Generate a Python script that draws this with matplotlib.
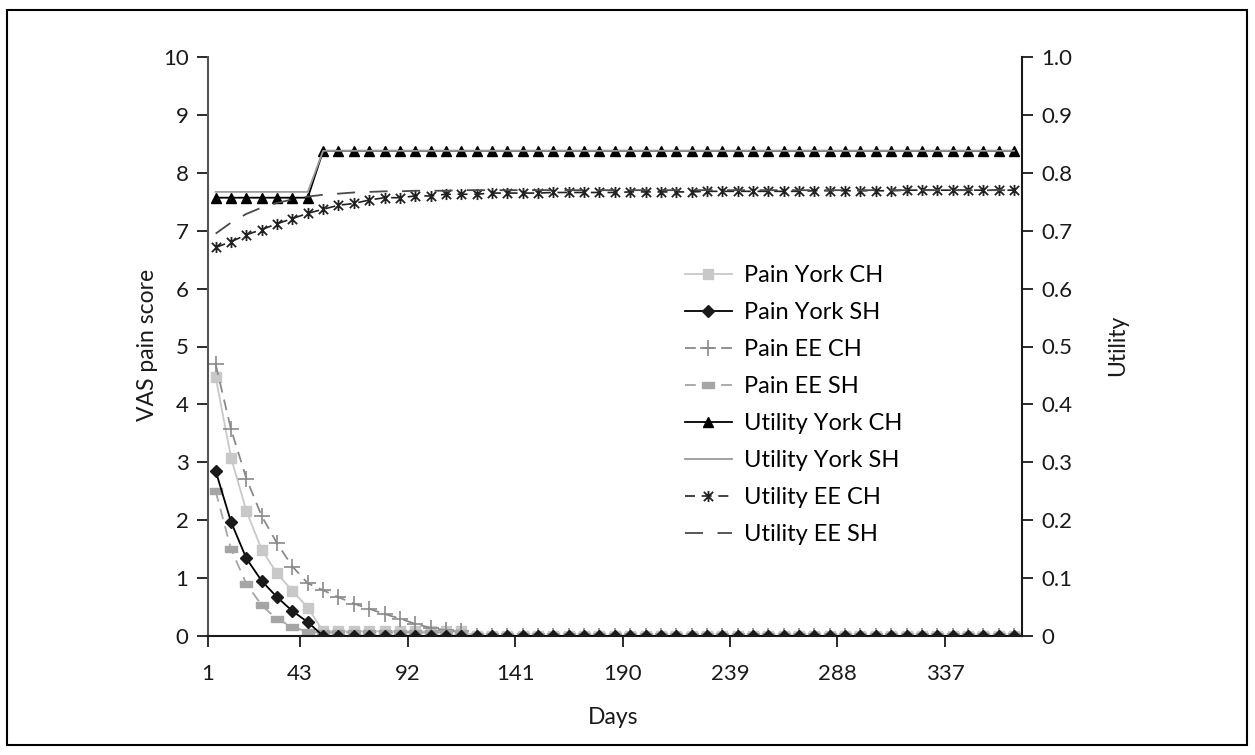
import matplotlib
matplotlib.use("Agg")
import matplotlib.pyplot as plt
from matplotlib.patches import Rectangle
from matplotlib.path import Path

plt.rcParams['font.family'] = ['Lato', 'DejaVu Sans']

# ==============================
# DATA
# ==============================
days = list(range(1, 366, 7))   # weekly points, day 1 .. 365
xtick_days = [1, 43, 92, 141, 190, 239, 288, 337]

pain_york_ch = [4.47, 3.08, 2.16, 1.49, 1.08, 0.78, 0.49] + [0.08] * 10 + [0.0] * 36
pain_york_sh = [2.85, 1.97, 1.34, 0.95, 0.67, 0.43, 0.24] + [0.0] * 46
pain_ee_ch = [4.69, 3.57, 2.72, 2.07, 1.60, 1.20, 0.91, 0.79, 0.67, 0.56,
              0.47, 0.38, 0.30, 0.21, 0.14, 0.10, 0.09] + [0.0] * 36
pain_ee_sh = [2.50, 1.50, 0.90, 0.53, 0.29, 0.16, 0.07] + [0.06] * 10 + [0.0] * 36

util_york_ch = [0.757] * 7 + [0.838] * 46
util_york_sh = [0.767] * 7 + [0.838] * 46
util_ee_ch = [0.671, 0.681, 0.693, 0.702, 0.712, 0.721, 0.730, 0.737, 0.744, 0.747,
              0.753, 0.757, 0.757, 0.760, 0.760, 0.763, 0.763, 0.763, 0.765, 0.765,
              0.765, 0.765, 0.766, 0.766, 0.766, 0.766, 0.766, 0.767, 0.767, 0.767,
              0.767, 0.767, 0.768, 0.768, 0.768, 0.768, 0.768, 0.768, 0.768, 0.769,
              0.769, 0.769, 0.769, 0.769, 0.769, 0.770, 0.770, 0.770, 0.770, 0.770,
              0.770, 0.770, 0.770]
util_ee_sh = [0.695, 0.714, 0.729, 0.740, 0.748, 0.754, 0.759, 0.762, 0.764, 0.766,
              0.767, 0.768, 0.768, 0.769, 0.769, 0.769, 0.770, 0.770, 0.770, 0.770,
              0.770, 0.770, 0.770, 0.770, 0.770, 0.770, 0.770, 0.770, 0.770, 0.770,
              0.770, 0.770, 0.770, 0.770, 0.770, 0.770, 0.770, 0.770, 0.770, 0.770,
              0.770, 0.770, 0.770, 0.770, 0.770, 0.770, 0.770, 0.770, 0.770, 0.770,
              0.770, 0.770, 0.770]

# ==============================
# MARKERS
# ==============================
# asterisk-like cross: an x with a vertical stroke
star_x = Path([(-1, -1), (1, 1), (-1, 1), (1, -1), (0, -1.2), (0, 1.2)],
              [Path.MOVETO, Path.LINETO, Path.MOVETO, Path.LINETO, Path.MOVETO, Path.LINETO])
# flat bar marker
flat_bar = [(-1, -0.45), (1, -0.45), (1, 0.45), (-1, 0.45), (-1, -0.45)]

# ==============================
# FIGURE
# ==============================
fig = plt.figure(figsize=(12.55, 7.55), dpi=100)
ax = fig.add_axes([208 / 1255, 1 - 636 / 755, (1021.7 - 208) / 1255, (636 - 57) / 755])
ax2 = ax.twinx()

# frame around the whole chart
fig.patches.append(Rectangle((7 / 1255, 1 - 745 / 755), 1240 / 1255, 735 / 755,
                             transform=fig.transFigure, fill=False,
                             edgecolor='black', linewidth=1.5))

h = []
h += ax.plot(days, pain_york_ch, color='#c8c8c8', lw=1.3, marker='s', ms=6.5,
             mec='#c8c8c8', mfc='#c8c8c8', label='Pain York CH')
h += ax.plot(days, pain_york_sh, color='black', lw=1.3, marker='D', ms=6,
             mec='#1a1a1a', mfc='#1a1a1a', label='Pain York SH', zorder=4)
h += ax.plot(days, pain_ee_ch, color='#8a8a8a', lw=1.3, ls=(0, (6, 4)), marker='+',
             ms=11, mew=1.2, label='Pain EE CH')
h += ax.plot(days, pain_ee_sh, color='#a5a5a5', lw=1.3, ls=(0, (6, 4)), marker=flat_bar,
             ms=9, mec='#a5a5a5', mfc='#a5a5a5', label='Pain EE SH')

h += ax2.plot(days, util_york_ch, color='black', lw=1.3, marker='^', ms=7.5,
              mec='black', mfc='black', label='Utility York CH')
h += ax2.plot(days, util_york_sh, color='#9a9a9a', lw=1.3, label='Utility York SH')
h += ax2.plot(days, util_ee_ch, color='#222222', lw=1.2, ls=(0, (6, 4)), marker=star_x,
              ms=8, mew=1.3, mec='#222222', label='Utility EE CH')
h += ax2.plot(days, util_ee_sh, color='#4a4a4a', lw=1.3, ls=(0, (10, 8)),
              label='Utility EE SH')

# x axis: ticks sit half a week before the labelled day
half = (days[1] - days[0]) / 2
ax.set_xlim(days[0] - half, days[-1] + half)
ax.set_xticks([d - half for d in xtick_days])
ax.set_xticklabels([str(d) for d in xtick_days])

ax.set_ylim(0, 10)
ax.set_yticks(range(0, 11))
ax2.set_ylim(0, 1.0)
ax2.set_yticks([i / 10 for i in range(0, 11)])
ax2.set_yticklabels(['0'] + [f'{i / 10:.1f}' for i in range(1, 11)])

for a in (ax, ax2):
    a.spines['top'].set_visible(False)
    a.tick_params(labelsize=16, colors='#1a1a1a', length=8, width=1.3)
ax.spines['left'].set_color('#555555')
ax.spines['right'].set_visible(False)
ax2.spines['left'].set_visible(False)
ax2.spines['bottom'].set_visible(False)
ax2.spines['right'].set_color('#1a1a1a')
ax.spines['bottom'].set_color('#1a1a1a')
for sp in ('left', 'bottom'):
    ax.spines[sp].set_linewidth(1.5)
ax2.spines['right'].set_linewidth(1.5)
ax.tick_params(axis='x', pad=12)
ax.tick_params(axis='y', pad=6)
ax2.tick_params(axis='y', pad=6)

fig.text(147 / 1255, 1 - 345 / 755, 'VAS pain score', rotation=90, ha='center',
         va='center', fontsize=16.5, color='#1a1a1a')
fig.text(1118 / 1255, 1 - 345 / 755, 'Utility', rotation=90, ha='center',
         va='center', fontsize=16.5, color='#1a1a1a')
fig.text(613 / 1255, 1 - 718 / 755, 'Days', ha='center', va='center',
         fontsize=16.5, color='#1a1a1a')

ax2.legend(handles=h, loc='upper left', bbox_to_anchor=(673 / 1255, 1 - 253 / 755),
           bbox_transform=fig.transFigure, frameon=False, fontsize=17,
           handlelength=2.0, handletextpad=0.5, labelspacing=0.68, borderpad=0)

fig.savefig('out.png', dpi=100)
